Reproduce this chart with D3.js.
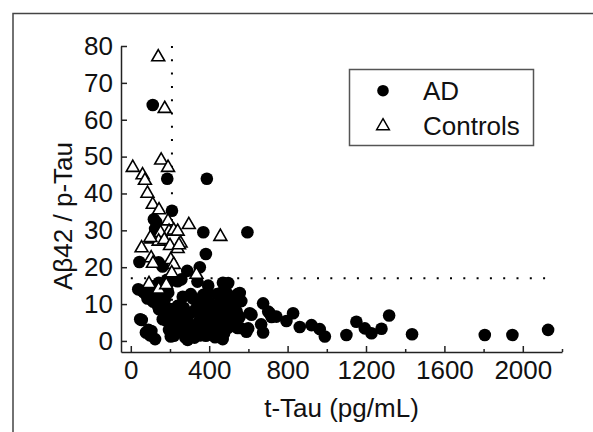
<!DOCTYPE html>
<html><head><meta charset="utf-8">
<script src="https://cdn.jsdelivr.net/npm/d3@7/dist/d3.min.js"></script>
<style>
html,body{margin:0;padding:0;background:#fff;}
text{font-family:"Liberation Sans",Arial,sans-serif;fill:#111;}
</style></head>
<body>
<svg id="c" width="593" height="432"></svg>
<script>
// ---- data ----
const adPoints = [
[112,64],[186,44],[388,44],[210,35.3],[595,29.5],[370,29.5],[383,23.6],[352,20],[288,19],[130,32.2],[124,30.4],[118,33],[44,21.4],[162,20.2],[142,21.3],[470,15.8],
[38,14],[67,13.1],[96,13.1],[113,14.8],[143,15.8],[185,16.6],[220,16.5],[239,16.2],[258,16.7],[340,16.1],[316,11.6],[306,12.7],[392,13],[459,13],[488,13.1],[545,12.7],[556,13],[497,15.7],[191,13.1],
[105,11.3],[113,10.7],[134,9.9],[144,8.6],[163,5.9],[171,7.1],[56,5.7],[48,5.9],[77,2.3],[90,3],[105,2.7],[98,1.5],[124,0.5],[204,1.2],[220,1.4],[239,4.1],[247,3],[222,4.8],[201,5.9],[210,4.5],[210,8.6],[239,9.5],[258,6.8],[258,3.2],[278,0.9],[290,0.3],[290,6.6],[297,4.5],[306,7.7],[325,11.3],[325,0.9],[335,3.2],[354,5.9],[364,8.6],[366,3.9],[373,7.2],[383,11.3],[383,3.6],[383,1.4],[412,9],[412,5.9],[425,5.7],[431,7.7],[440,12.7],[440,3.2],[442,9.3],[469,5.9],[469,0.5],[476,2.1],[488,8.6],[498,3.6],[507,10.4],[526,5.4],[526,9.5],[564,10.8],
[350,10],[400,7],[395,4.5],[420,2.5],[450,6.5],[455,10.5],[480,11],[500,6],[515,7.5],[540,8],[545,3.5],[330,8.5],[345,5],[310,2.5],[270,9],[280,5],[265,12],[185,9],[175,11.5],[195,3],[230,7],[355,1.5],[400,10.5],[430,1],[460,4],[475,8.5],[520,12],[535,11.5],[555,6.5],[560,3.5],[370,12.5],[395,15],[180,5.5],[160,10],[150,12.2],[85,11.5],[60,13.5],
[607,7.5],[599,3.4],[616,7.1],[590,2.5],[675,10.2],[675,2.3],[665,4.5],[701,8],[709,7.5],[718,6.5],[743,6.6],[794,5.4],[828,7.5],[862,3.8],[922,4.3],[964,3.2],[990,1.2],[1100,1.6],[1151,5.2],[1194,3.4],[1228,2.1],[1279,3.3],[1318,6.9],[1435,1.8],[1806,1.6],[1947,1.6],[2129,3]
];
const controlPoints = [
[140,77],[173,63],[10,47],[155,49],[190,47],[60,45],[72,43.5],[85,40],[112,37],[144,35.5],[190,32.5],[296,31.5],[457,28.3],[195,29.7],[104,27.6],[152,29.3],[219,30],[239,29.7],[55,25.2],[104,22.5],[113,21],[142,27],[171,27.4],[200,25.8],[254,26.5],[239,25],[204,22],[219,20.7],[209,18.4],[93,15.5],[142,14],[181,15.2],[335,18],[246,26],[100,28]
];
const xTicks = [0,400,800,1200,1600,2000];
const xMinorTicks = [200,600,1000,1400,1800,2200];
const yTicks = [0,10,20,30,40,50,60,70,80];
const cutoffTTau = 210;
const cutoffRatio = 17;
const legendLabels = ["AD","Controls"];
const xTitle = "t-Tau (pg/mL)";
const yTitle = "Aβ42 / p-Tau";

// ---- chart ----
const svg = d3.select("#c");
const x = d3.scaleLinear().domain([-50,2200]).range([121,562]);
const y = d3.scaleLinear().domain([-3,80]).range([352,46]);

// frame
svg.append("path").attr("d","M13,432 L13,13.5 L593,13.5")
  .attr("fill","none").attr("stroke","#444").attr("stroke-width",1.5);

// cutoff lines
svg.append("line").attr("x1",x(cutoffTTau)).attr("x2",x(cutoffTTau))
  .attr("y1",y(80)).attr("y2",y(-3))
  .attr("stroke","#000").attr("stroke-width",2).attr("stroke-dasharray","2,11.3");
svg.append("line").attr("x1",x(0)).attr("x2",x(2140))
  .attr("y1",y(cutoffRatio)).attr("y2",y(cutoffRatio))
  .attr("stroke","#000").attr("stroke-width",2).attr("stroke-dasharray","2,11.3");

// axes
const fs = 26;
const gx = svg.append("g").attr("transform","translate(0,352)")
  .call(d3.axisBottom(x).tickValues(xTicks).tickSize(-6).tickSizeOuter(0).tickPadding(9).tickFormat(d3.format("d")));
const gxm = svg.append("g").attr("transform","translate(0,352)")
  .call(d3.axisBottom(x).tickValues(xMinorTicks).tickSize(-3).tickSizeOuter(0).tickFormat(""));
gxm.select(".domain").remove();
const gy = svg.append("g").attr("transform","translate(121,0)")
  .call(d3.axisLeft(y).tickValues(yTicks).tickSize(-6).tickSizeOuter(0).tickPadding(8));
[gx,gxm,gy].forEach(g=>{
  g.selectAll("path,line").attr("stroke","#222").attr("stroke-width",1.5);
  g.selectAll("text").attr("font-size",fs).attr("font-family","Liberation Sans, Arial, sans-serif").attr("fill","#111");
});

// points
svg.append("g").selectAll("circle").data(adPoints).join("circle")
  .attr("cx",d=>x(d[0])).attr("cy",d=>y(d[1])).attr("r",6.3).attr("fill","#000");
const tri = d3.symbol().type(d3.symbolTriangle).size(72);
svg.append("g").selectAll("path").data(controlPoints).join("path")
  .attr("d",tri).attr("transform",d=>`translate(${x(d[0])},${y(d[1])})`)
  .attr("fill","#fff").attr("stroke","#000").attr("stroke-width",1.6);

// legend
svg.append("rect").attr("x",349.5).attr("y",69.5).attr("width",184).attr("height",76)
  .attr("fill","#fff").attr("stroke","#555").attr("stroke-width",1.5);
svg.append("circle").attr("cx",383).attr("cy",90.7).attr("r",5.8).attr("fill","#000");
svg.append("path").attr("d",d3.symbol().type(d3.symbolTriangle).size(70))
  .attr("transform","translate(383,126)").attr("fill","#fff").attr("stroke","#000").attr("stroke-width",1.5);
svg.append("text").attr("x",423).attr("y",100).attr("font-size",fs).text(legendLabels[0]);
svg.append("text").attr("x",423).attr("y",134.5).attr("font-size",fs).text(legendLabels[1]);

// titles
svg.append("text").attr("x",341.5).attr("y",417).attr("text-anchor","middle").attr("font-size",fs).text(xTitle);
svg.append("text").attr("transform","translate(72,216) rotate(-90)").attr("text-anchor","middle").attr("font-size",fs).text(yTitle);
</script>
</body></html>
